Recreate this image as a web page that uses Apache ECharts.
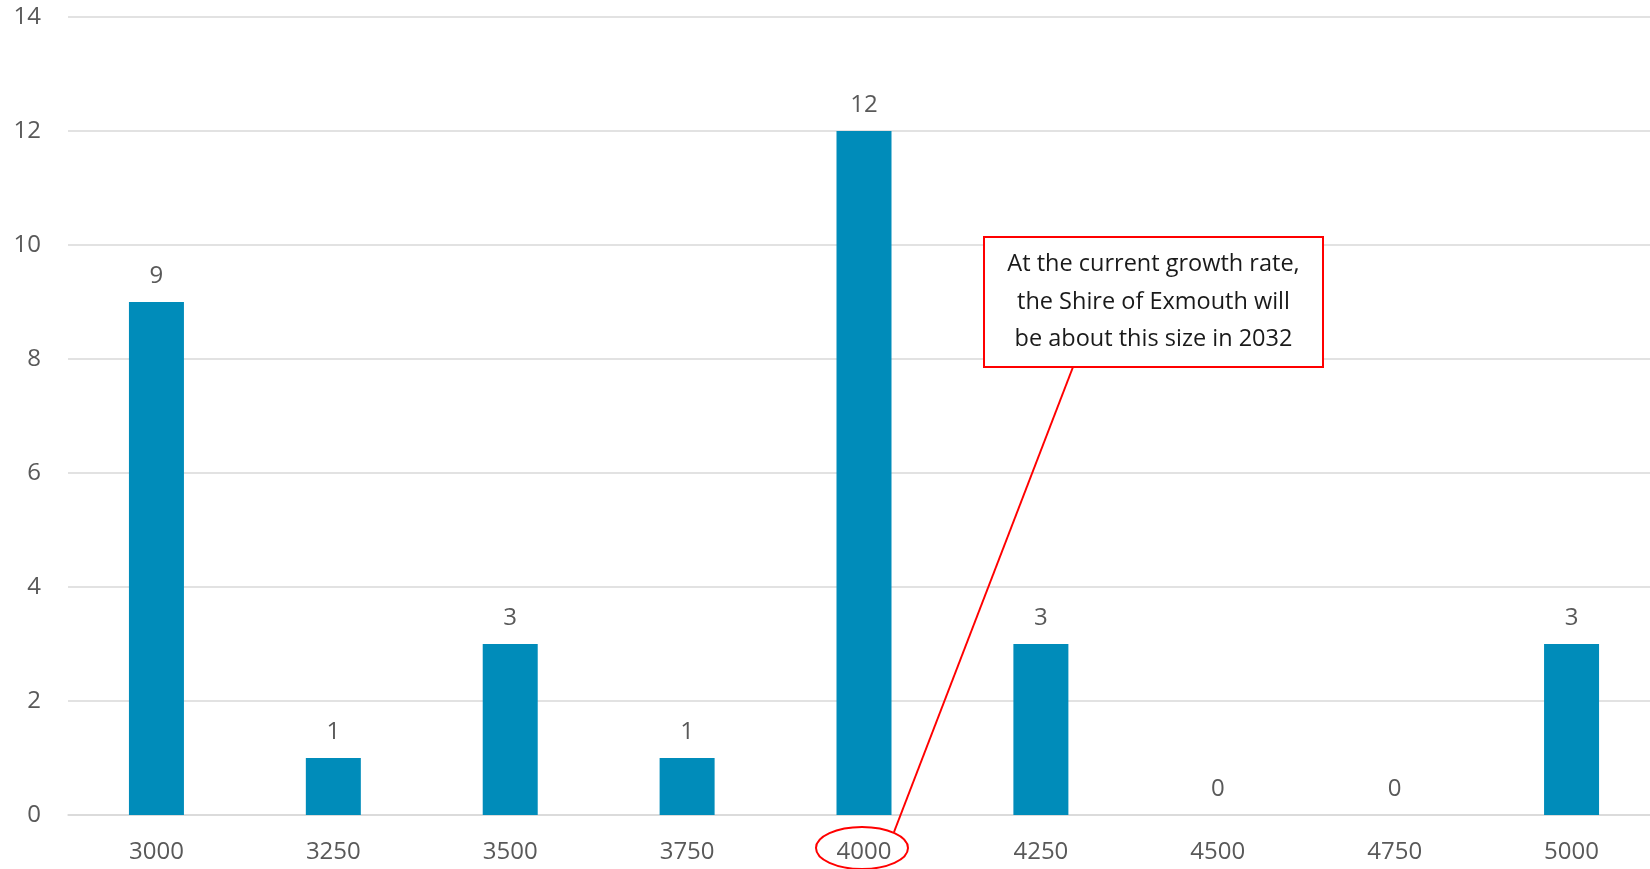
<!DOCTYPE html>
<html>
<head>
<meta charset="utf-8">
<script src="https://cdn.jsdelivr.net/npm/echarts@6/dist/echarts.min.js"></script>
<style>
html,body{margin:0;padding:0;background:#fff;overflow:hidden;}
#chart{width:1660px;height:869px;}
</style>
</head>
<body>
<div id="chart"></div>
<script>
const categories = ['3000','3250','3500','3750','4000','4250','4500','4750','5000'];
const counts = [9, 1, 3, 1, 12, 3, 0, 0, 3];
const yTicks = { min: 0, max: 14, interval: 2 };
const calloutLines = ['At the current growth rate,', 'the Shire of Exmouth will', 'be about this size in 2032'];
const highlightCategory = '4000';

const FONT = '"Open Sans", sans-serif';
const chart = echarts.init(document.getElementById('chart'));
chart.setOption({
  animation: false,
  backgroundColor: '#ffffff',
  grid: { left: 68, top: 17, right: 0, height: 798, containLabel: false },
  xAxis: {
    type: 'category',
    data: categories,
    axisTick: { show: false },
    axisLine: { show: true, lineStyle: { color: '#d9d9d9', width: 1.5 } },
    axisLabel: { color: '#595959', fontSize: 24, fontFamily: FONT, margin: 25 }
  },
  yAxis: {
    type: 'value',
    min: yTicks.min, max: yTicks.max, interval: yTicks.interval,
    axisLine: { show: false },
    axisTick: { show: false },
    splitLine: { lineStyle: { color: '#d9d9d9', width: 1.5 } },
    axisLabel: { color: '#595959', fontSize: 24, fontFamily: FONT, margin: 27 }
  },
  series: [{
    type: 'bar',
    data: counts,
    barWidth: 55,
    itemStyle: { color: '#008CBA' },
    label: { show: true, position: 'top', distance: 14, color: '#595959', fontSize: 24, fontFamily: FONT }
  }]
});

// Annotation: callout box, leader line and ellipse around the highlighted category label
const cx = chart.convertToPixel({ xAxisIndex: 0 }, highlightCategory);
const y0 = chart.convertToPixel({ yAxisIndex: 0 }, 0);
const ellipseCy = y0 + 33;
const box = { x: 984, y: 237, w: 339, h: 130 };
chart.setOption({
  graphic: [
    {
      type: 'rect',
      shape: { x: box.x, y: box.y, width: box.w, height: box.h },
      style: { fill: '#ffffff', stroke: '#ff0000', lineWidth: 2 },
      z: 100
    },
    {
      type: 'text',
      x: box.x + box.w / 2,
      y: box.y + box.h / 2,
      style: {
        text: calloutLines.join('\n'),
        fill: '#1a1a1a',
        font: '23.5px ' + FONT,
        align: 'center',
        verticalAlign: 'middle',
        lineHeight: 37.5
      },
      z: 101
    },
    {
      type: 'line',
      shape: { x1: 1073, y1: box.y + box.h, x2: cx + 30, y2: ellipseCy - 16 },
      style: { stroke: '#ff0000', lineWidth: 2 },
      z: 100
    },
    {
      type: 'ellipse',
      shape: { cx: cx - 2, cy: ellipseCy, rx: 46, ry: 21 },
      style: { fill: 'none', stroke: '#ff0000', lineWidth: 2 },
      z: 100
    }
  ]
});
</script>
</body>
</html>
